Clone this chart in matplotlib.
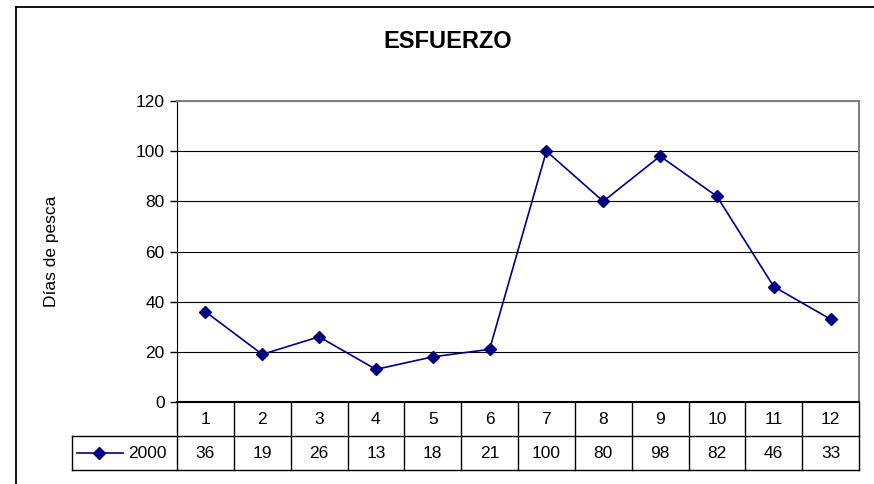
import matplotlib
matplotlib.use("Agg")
import matplotlib.pyplot as plt
from matplotlib.transforms import blended_transform_factory
from matplotlib.lines import Line2D

plt.rcParams['font.family'] = ['Liberation Sans', 'DejaVu Sans']

months = [1, 2, 3, 4, 5, 6, 7, 8, 9, 10, 11, 12]
dias_2000 = [36, 19, 26, 13, 18, 21, 100, 80, 98, 82, 46, 33]
series_name = "2000"
y_ticks = [0, 20, 40, 60, 80, 100, 120]

W, H = 874, 484
fig = plt.figure(figsize=(W / 100, H / 100), dpi=100)

# outer chart frame (left + top, right side runs off the image)
fig.add_artist(Line2D([16 / W, 16 / W], [0, 1 - 7 / H], transform=fig.transFigure,
                      color="black", lw=1.3))
fig.add_artist(Line2D([16 / W, 1], [1 - 7 / H, 1 - 7 / H], transform=fig.transFigure,
                      color="black", lw=1.3))

x0, x1, ytop, ybot = 177, 859, 101, 402
ax = fig.add_axes([x0 / W, 1 - ybot / H, (x1 - x0) / W, (ybot - ytop) / H])

navy = "#000080"
ax.plot(months, dias_2000, color=navy, lw=1.2, marker="D", ms=6.5,
        markerfacecolor=navy, markeredgecolor=navy, clip_on=False, zorder=5)

ax.set_xlim(0.5, 12.5)
ax.set_ylim(0, 120)
ax.set_yticks(y_ticks)
ax.set_yticklabels([str(v) for v in y_ticks], fontsize=12.5)
ax.tick_params(axis="y", direction="out", length=5, width=1, pad=4)
ax.set_xticks([])
ax.yaxis.grid(True, color="black", lw=0.8)
ax.set_axisbelow(True)
for side in ("top", "right"):
    ax.spines[side].set_color("#808080")
    ax.spines[side].set_linewidth(1.5)
ax.spines["left"].set_color("black")
ax.spines["bottom"].set_color("black")
ax.spines["bottom"].set_linewidth(1.5)

ax.set_ylabel("Días de pesca", fontsize=12.5)
ax.yaxis.set_label_coords((59 - x0) / (x1 - x0), 0.5)

fig.text(448 / W, 1 - 41 / H, "ESFUERZO", ha="center", va="center",
         fontsize=17, fontweight="bold")

# data table below the plot
tr = blended_transform_factory(ax.transData, ax.transAxes)
ph = ybot - ytop
colw = (x1 - x0) / 12
r1 = -(436 - ybot) / ph
r2 = -(470 - ybot) / ph
leg_left = 0.5 - (x0 - 72) / colw

def hline(xa, xb, y):
    ax.add_line(Line2D([xa, xb], [y, y], transform=tr, color="black", lw=1, clip_on=False))

def vline(x, ya, yb):
    ax.add_line(Line2D([x, x], [ya, yb], transform=tr, color="black", lw=1, clip_on=False))

hline(leg_left, 12.5, r1)
hline(leg_left, 12.5, r2)
vline(leg_left, r1, r2)
for b in range(13):
    vline(0.5 + b, 0, r2)

for m, v in zip(months, dias_2000):
    ax.text(m, r1 / 2, str(m), transform=tr, ha="center", va="center", fontsize=12.5)
    ax.text(m, (r1 + r2) / 2, str(v), transform=tr, ha="center", va="center", fontsize=12.5)

# legend key inside the table
ymid = (r1 + r2) / 2
ax.add_line(Line2D([leg_left + 5 / colw, leg_left + 51 / colw], [ymid, ymid], transform=tr,
                   color=navy, lw=1.2, clip_on=False))
ax.add_line(Line2D([leg_left + 27 / colw], [ymid], transform=tr, marker="D", ms=6.5,
                   color=navy, clip_on=False))
ax.text(0.5 - 10 / colw, ymid, series_name, transform=tr, ha="right", va="center",
        fontsize=12.5)

fig.savefig("out.png", dpi=100)
